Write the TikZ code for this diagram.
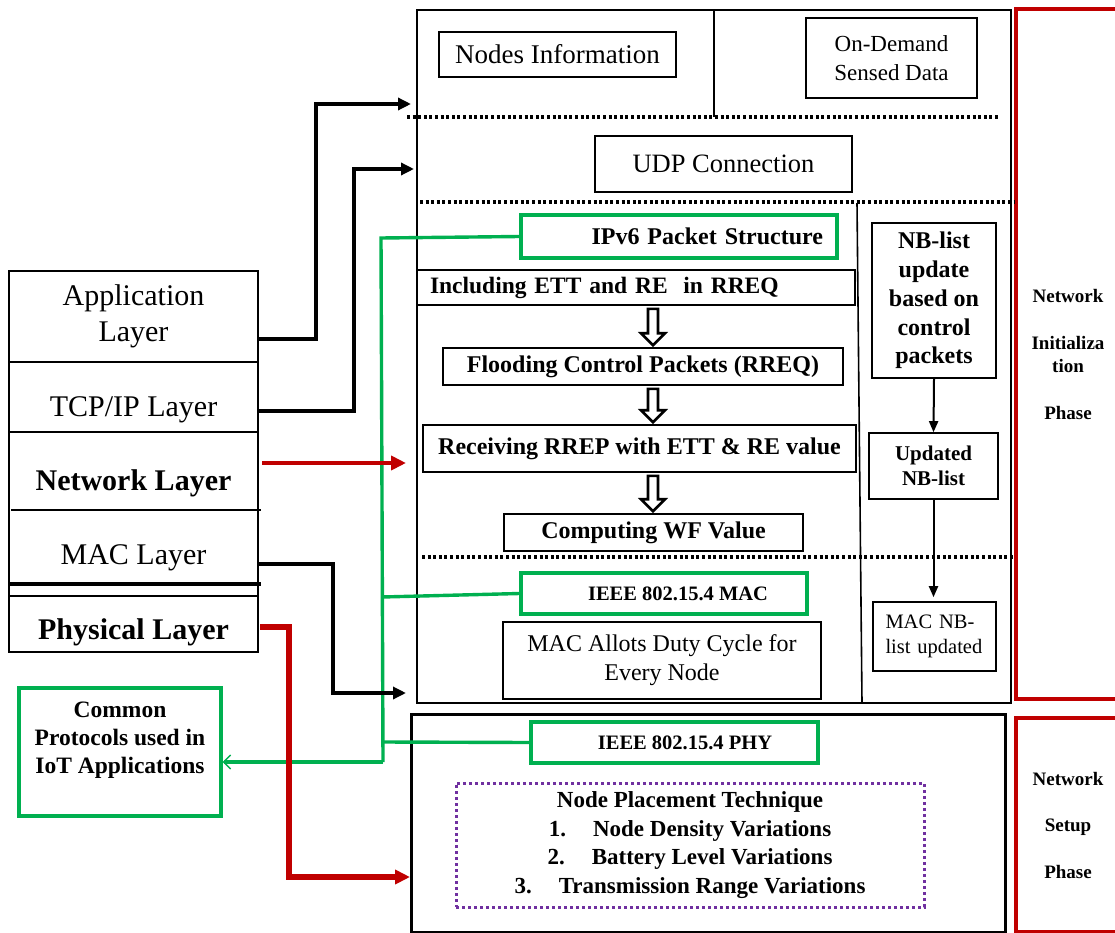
\documentclass[tikz,border=0pt]{standalone}
\usepackage{fontspec}
\setmainfont{Liberation Serif}
\usetikzlibrary{arrows.meta,calc}
\definecolor{grn}{HTML}{00B050}
\definecolor{rdc}{HTML}{C00000}
\definecolor{pur}{HTML}{7030A0}
\tikzset{
  bx/.style={draw, line width=1.6pt, inner sep=0pt, align=center},
  gbx/.style={draw=grn, line width=3.2pt, inner sep=0pt, align=center},
  phase/.style={draw=rdc, line width=3.5pt, inner sep=0pt, align=center, font=\fontsize{19}{23}\selectfont\bfseries},
  dotln/.style={line width=3.5pt, dash pattern=on 3pt off 2.6pt},
  blkconn/.style={line width=3.4pt, -{Triangle[length=13pt,width=12pt]}},
  redconn/.style={draw=rdc, line width=4.5pt, -{Triangle[length=15pt,width=14pt]}},
  grnln/.style={draw=grn, line width=3.4pt},
  thinarr/.style={line width=2pt, -{Triangle[length=11pt,width=9pt]}},
  hollow/.style={draw=black, line width=2.6pt, fill=white, line join=miter},
  fStack/.style={font=\fontsize{30}{36}\selectfont},
  fStackB/.style={font=\fontsize{30}{36}\selectfont\bfseries},
  fBold/.style={font=\fontsize{24}{29}\selectfont\bfseries},
  fSmallBold/.style={font=\fontsize{20.5}{25}\selectfont\bfseries},
}
\newcommand{\hdown}[2]{%
  \path let \p1=(#1.south), \p2=(#2.north) in
    [hollow] (648pt,\y1-3pt) -- (658pt,\y1-3pt) -- (658pt,\y2+14pt) -- (665pt,\y2+14pt)
    -- (653pt,\y2+2pt) -- (641pt,\y2+14pt) -- (648pt,\y2+14pt) -- cycle;}
\begin{document}
\begin{tikzpicture}[x=1pt,y=-1pt]
\useasboundingbox (0,0) rectangle (1115,933);
\clip (0,0) rectangle (1115,933);

% ---------- phase boxes on the right
\node[phase, minimum width=104, minimum height=690] (initph) at (1068,354)
  {Network\\[24pt]Initializa\\tion\\[24pt]Phase};
\node[phase, minimum width=104, minimum height=214] (setph) at (1068,825)
  {Network\\[23.5pt]Setup\\[23.5pt]Phase};

% ---------- main (initialization) box
\node[draw, line width=2pt, minimum width=594, minimum height=693, inner sep=0pt] (initbox) at (714,356.5) {};
\draw[line width=2pt] (714,10) -- (714,117);
\draw[dotln] (407,117) -- (998,117);
\draw[dotln] (420,202) -- (1014,202);
\draw[dotln] (422,557) -- (1014,557);
\draw[line width=1.6pt] (857,203) -- (862,703);

\node[bx, minimum width=237, minimum height=45, font=\fontsize{27}{32}\selectfont] (nodesinfo) at (557.5,54.5) {Nodes Information};
\node[bx, minimum width=171, minimum height=80, font=\fontsize{23}{29}\selectfont] (ondemand) at (891.5,58) {On-Demand\\Sensed Data};
\node[bx, minimum width=257, minimum height=56, font=\fontsize{26.5}{32}\selectfont] (udp) at (723.5,164) {UDP Connection};

\node[gbx, minimum width=316, minimum height=43, text width=288, align=right, fBold] (ipv6) at (679,236.5) {IPv6 Packet Structure};
\node[bx, minimum width=438, minimum height=35, text width=412, align=left, font=\fontsize{23.5}{29}\selectfont\bfseries] (inc) at (636,287.5) {Including ETT and RE\ \ in RREQ};
\node[bx, minimum width=400, minimum height=37, fBold] (flood) at (643,366.5) {Flooding Control Packets (RREQ)};
\node[bx, minimum width=433, minimum height=47, fBold] (recv) at (639.5,448.5) {Receiving RREP with ETT \& RE value};
\node[bx, minimum width=299, minimum height=37, fBold] (comp) at (653.5,532.5) {Computing WF Value};

\hdown{inc}{flood}
\hdown{flood}{recv}
\hdown{recv}{comp}

\node[bx, minimum width=124, minimum height=155, font=\fontsize{24}{28.75}\selectfont\bfseries] (nbup) at (934,300.5) {NB-list\\update\\based on\\control\\packets};
\node[bx, minimum width=129, minimum height=66, font=\fontsize{21}{25}\selectfont\bfseries] (upd) at (933.5,466) {Updated\\NB-list};
\node[bx, minimum width=123, minimum height=69, text width=98, align=left, font=\fontsize{20.5}{25}\selectfont] (macnb) at (934.5,636.5) {MAC NB-\\list updated};
\draw[thinarr] (nbup.south) -- (upd.north);
\draw[thinarr, shorten >=4pt] (upd.south) -- (upd.south |- macnb.north);

\node[gbx, minimum width=286, minimum height=41, fSmallBold] (gmac) at (664,593.5) {\hspace*{28pt}IEEE 802.15.4 MAC};
\node[bx, minimum width=318, minimum height=77, font=\fontsize{24}{29}\selectfont] (allot) at (662,660.5) {MAC Allots Duty Cycle for\\Every Node};

% ---------- setup box
\node[draw, line width=3pt, minimum width=594, minimum height=218, inner sep=0pt] (setbox) at (708,823) {};
\node[gbx, minimum width=287, minimum height=41, fSmallBold] (gphy) at (674.5,742.5) {\hspace*{21pt}IEEE 802.15.4 PHY};
\node[draw=pur, line width=3pt, dash pattern=on 3pt off 3pt, minimum width=468, minimum height=124, inner sep=0pt, align=center, font=\fontsize{23}{28.5}\selectfont\bfseries] (npt) at (690,845)
  {Node Placement Technique\\1.\hspace{27pt}Node Density Variations\\2.\hspace{27pt}Battery Level Variations\\3.\hspace{27pt}Transmission Range Variations};

% ---------- left layer stack
\node[draw, line width=1.6pt, minimum width=249, minimum height=381, inner sep=0pt] (stack) at (133.5,461.5) {};
\draw[line width=1.6pt] (9,362) -- (258,362);
\draw[line width=1.6pt] (9,432) -- (258,432);
\draw[line width=1.6pt] (11,510) -- (261,510);
\draw[line width=3.5pt] (10,584) -- (261,584);
\draw[line width=1.6pt] (9,596) -- (258,596);
\node[fStack, align=center, inner sep=0pt] (app) at (133.5,316) {Application\\Layer};
\node[fStack, anchor=base, inner sep=0pt] (tcp) at (133.5,416.5) {TCP/IP Layer};
\node[fStackB, anchor=base, inner sep=0pt] (netl) at (133.5,490) {Network Layer};
\node[fStack, anchor=base, inner sep=0pt] (macl) at (133.5,564) {MAC Layer};
\node[fStackB, anchor=base, inner sep=0pt] (phyl) at (133.5,639) {Physical Layer};

% ---------- common protocols box
\node[gbx, minimum width=202, minimum height=128, font=\fontsize{23.5}{28}\selectfont\bfseries] (common) at (120,752)
  {Common\\Protocols used in\\IoT Applications\\ \mbox{}};

% ---------- green connectors
\coordinate (gtop) at (381,238);
\coordinate (gbot) at (383,762);
\coordinate (gmacj) at (382,597);
\coordinate (gphyj) at (383,742);
\draw[grnln] (ipv6.west) -- (gtop) -- (gbot);
\draw[grnln] (gmacj) -- (gmac.west);
\draw[grnln] (gphyj) -- (gphy.west);
\draw[grnln, -{Straight Barb[length=7pt,width=14pt,line width=1.5pt]}] (gbot) -- (common.east |- gbot);

% ---------- black connectors
\coordinate (appout) at (258,339);  \coordinate (appin) at (411,104);
\coordinate (tcpout) at (258,411);  \coordinate (tcpin) at (414,169);
\coordinate (macout) at (258,564);  \coordinate (macin) at (406,693);
\draw[blkconn] (appout) -| (316,104) -- (appin);
\draw[blkconn] (tcpout) -| (354,169) -- (tcpin);
\draw[blkconn] (macout) -| (333,693) -- (macin);

% ---------- red connectors
\coordinate (netout) at (262,463);  \coordinate (netin) at (406,463);
\coordinate (phyout) at (260,627);  \coordinate (phyin) at (410,877);
\draw[redconn] (netout) -- (netin);
\draw[redconn, line width=5.5pt] (phyout) -| (289,877) -- (phyin);
\end{tikzpicture}
\end{document}
